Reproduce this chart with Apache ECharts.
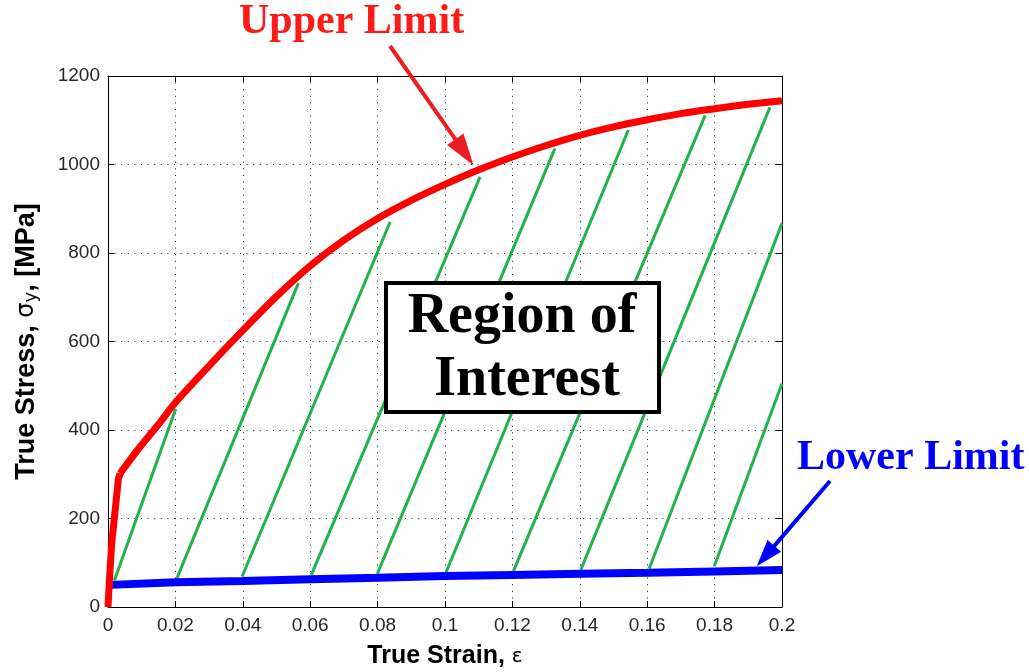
<!DOCTYPE html>
<html>
<head>
<meta charset="utf-8">
<script src="https://cdn.jsdelivr.net/npm/echarts@6/dist/echarts.min.js"></script>
<style>html,body{margin:0;padding:0;background:#fff}#c{width:1029px;height:672px}</style>
</head>
<body>
<div id="c"></div>
<script>
// ---- data ----
// steep elastic start of the upper limit, then the hardening curve
const upperStrain = [0, 0.0005, 0.0011, 0.0031, 0.0036, 0.009, 0.015, 0.02, 0.03, 0.04, 0.05, 0.06, 0.07, 0.08, 0.09, 0.1, 0.11, 0.12, 0.13, 0.14, 0.15, 0.16, 0.17, 0.18, 0.19, 0.2];
const upperStress = [0, 70, 144, 290, 302, 357, 413, 462, 545, 625, 702, 771, 829, 878, 919, 955, 988, 1017, 1043, 1066, 1085, 1101, 1115, 1126, 1136, 1144];
const upperKinkIndex = 4;

const lowerStrain = [0.0008, 0.02, 0.04, 0.06, 0.08, 0.1, 0.12, 0.14, 0.16, 0.18, 0.2];
const lowerStress = [50, 56, 59, 62.5, 66, 70, 72.5, 75, 77.5, 80.5, 83.5];
const lowerLeadStrain = [0, 0.0008];
const lowerLeadStress = [0, 50];

const hatchStartStrain = [0.0019, 0.0204, 0.0398, 0.0603, 0.0799, 0.1003, 0.1203, 0.1403, 0.1606, 0.1799];
const hatchStartStress = [60, 64, 69, 72, 75, 78, 81, 84, 87, 92];
const hatchEndStrain   = [0.0201, 0.0565, 0.0837, 0.1104, 0.1326, 0.1544, 0.1772, 0.1964, 0.2, 0.2];
const hatchEndStress   = [448, 732, 870, 972, 1036, 1078, 1111, 1129, 867, 505];

const xTicks = [0, 0.02, 0.04, 0.06, 0.08, 0.1, 0.12, 0.14, 0.16, 0.18, 0.2];
const yTicks = [0, 200, 400, 600, 800, 1000, 1200];

// ---- chart ----
const chart = echarts.init(document.getElementById('c'), null, {renderer: 'canvas'});
const zip = (a, b) => a.map((v, i) => [v, b[i]]);
const upperPts = zip(upperStrain, upperStress);

const series = [];
hatchStartStrain.forEach((s, i) => {
  series.push({
    type: 'line', silent: true, symbol: 'none', z: 2,
    data: [[s, hatchStartStress[i]], [hatchEndStrain[i], hatchEndStress[i]]],
    lineStyle: {color: '#22b14c', width: 3}
  });
});
series.push({type: 'line', silent: true, symbol: 'none', z: 4,
  data: zip(lowerLeadStrain, lowerLeadStress), lineStyle: {color: '#0000ff', width: 2}});
series.push({type: 'line', silent: true, symbol: 'none', z: 4,
  data: zip(lowerStrain, lowerStress), lineStyle: {color: '#0000ff', width: 8, cap: 'butt'}});
series.push({type: 'line', silent: true, symbol: 'none', z: 5,
  data: upperPts.slice(0, upperKinkIndex + 1), lineStyle: {color: '#ff0000', width: 7, cap: 'butt', join: 'round'}});
series.push({type: 'line', silent: true, symbol: 'none', z: 5, smooth: 0.3,
  data: upperPts.slice(upperKinkIndex), lineStyle: {color: '#ff0000', width: 7, cap: 'butt', join: 'round'}});

const gridLine = {show: true, lineStyle: {color: '#111', width: 1, type: [1, 5.6]}};
const lbl = {fontFamily: 'Liberation Sans', fontSize: 19, color: '#262626'};
const axisLine = {show: true, onZero: false, lineStyle: {color: '#000', width: 1}};
const tick = {show: true, inside: true, length: 6, lineStyle: {color: '#000'}};
const idxLabel = (ticks) => (v) => {
  const t = ticks.find(k => Math.abs(k - v) < 1e-9);
  return t === undefined ? '' : String(t);
};

chart.setOption({
  animation: false,
  grid: {left: 108, right: 247, top: 76, bottom: 65, containLabel: false, outerBoundsMode: 'none'},
  xAxis: [{
    type: 'value', min: 0, max: 0.2, interval: 0.02, position: 'bottom',
    axisLine, axisTick: tick, splitLine: gridLine,
    axisLabel: Object.assign({margin: 9, formatter: idxLabel(xTicks)}, lbl),
    name: '{a|True Strain, }{g|ε}', nameLocation: 'middle', nameGap: 37,
    nameTextStyle: {rich: {
      a: {fontFamily: 'Liberation Sans', fontSize: 25, fontWeight: 'bold', color: '#000'},
      g: {fontFamily: 'DejaVu Sans', fontSize: 20, color: '#000'}
    }}
  }, {
    type: 'value', min: 0, max: 0.2, interval: 0.02, position: 'top',
    axisLine, axisTick: tick, splitLine: {show: false}, axisLabel: {show: false}
  }],
  yAxis: [{
    type: 'value', min: 0, max: 1200, interval: 200, position: 'left',
    axisLine, axisTick: tick, splitLine: gridLine,
    axisLabel: Object.assign({margin: 8, formatter: idxLabel(yTicks)}, lbl),
    name: '{a|True Stress, }{g|σ}{s|y}{a|, [MPa]}', nameLocation: 'middle', nameGap: 68,
    nameTextStyle: {rich: {
      a: {fontFamily: 'Liberation Sans', fontSize: 27, fontWeight: 'bold', color: '#000'},
      g: {fontFamily: 'DejaVu Sans', fontSize: 24, color: '#000'},
      s: {fontFamily: 'DejaVu Sans', fontSize: 18, color: '#000', verticalAlign: 'bottom', padding: [9, 0, 0, 0]}
    }}
  }, {
    type: 'value', min: 0, max: 1200, interval: 200, position: 'right',
    axisLine, axisTick: tick, splitLine: {show: false}, axisLabel: {show: false}
  }],
  series
});

// ---- annotations ----
function arrow(x1, y1, x2, y2, color, w, headLen, headW) {
  const dx = x2 - x1, dy = y2 - y1, L = Math.hypot(dx, dy);
  const ux = dx / L, uy = dy / L, px = -uy, py = ux;
  const bx = x2 - ux * headLen, by = y2 - uy * headLen;
  return [
    {type: 'line', shape: {x1, y1, x2: bx + ux * 2, y2: by + uy * 2}, style: {stroke: color, lineWidth: w}, z: 100},
    {type: 'polygon', shape: {points: [[x2, y2], [bx + px * headW, by + py * headW], [bx - px * headW, by - py * headW]]}, style: {fill: color}, z: 100}
  ];
}
const redTip = chart.convertToPixel({xAxisIndex: 0, yAxisIndex: 0}, [0.1085, 998]);
const blueTip = chart.convertToPixel({xAxisIndex: 0, yAxisIndex: 0}, [0.1925, 92]);

const serif = 'Liberation Serif';
chart.setOption({
  graphic: [
    {type: 'text', left: 239, top: 1, z: 100,
      style: {text: 'Upper Limit', font: 'bold 42px "' + serif + '"', fill: '#ff1a1a'}},
    {type: 'text', left: 797, top: 437, z: 100,
      style: {text: 'Lower Limit', font: 'bold 42px "' + serif + '"', fill: '#0000ff'}},
    ...arrow(390, 46, redTip[0], redTip[1], '#ed1c24', 4, 32, 10),
    ...arrow(830, 481, blueTip[0], blueTip[1], '#0000ff', 4, 27, 9),
    {type: 'rect', shape: {x: 386, y: 283, width: 273, height: 129},
      style: {fill: '#fff', stroke: '#000', lineWidth: 4}, z: 90},
    {type: 'text', x: 522, y: 318, z: 100,
      style: {text: 'Region of', font: 'bold 56px "' + serif + '"', fill: '#000', align: 'center', verticalAlign: 'middle'}},
    {type: 'text', x: 527, y: 381, z: 100,
      style: {text: 'Interest', font: 'bold 56px "' + serif + '"', fill: '#000', align: 'center', verticalAlign: 'middle'}}
  ]
});
</script>
</body>
</html>
